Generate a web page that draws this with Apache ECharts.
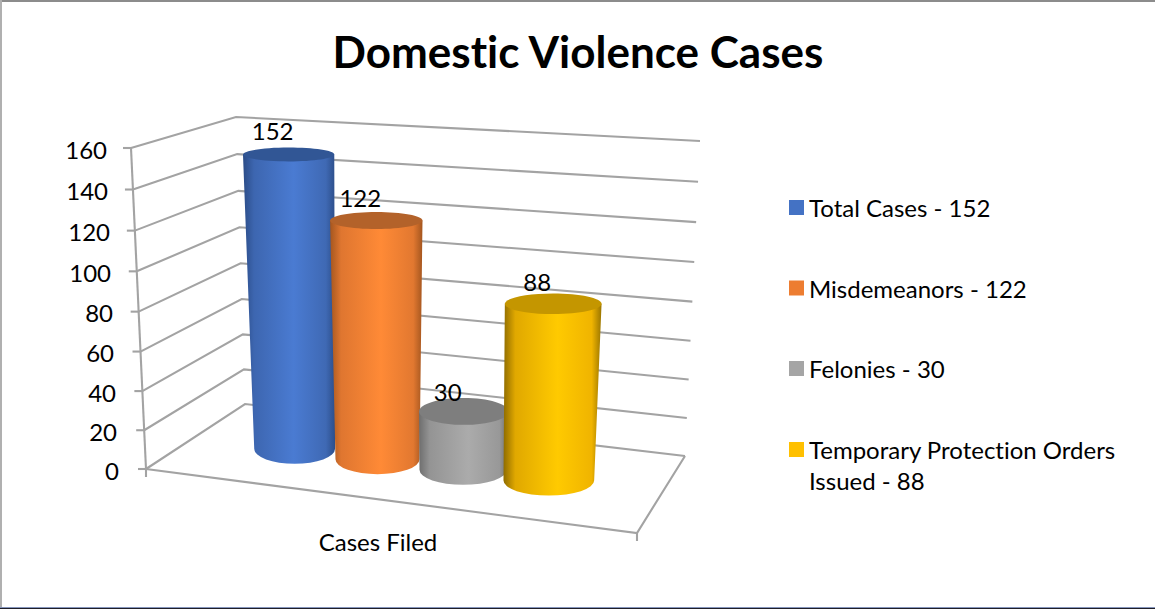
<!DOCTYPE html>
<html>
<head>
<meta charset="utf-8">
<style>html,body{margin:0;padding:0;background:#fff}#c{width:1155px;height:609px}#c text{font-variant-ligatures:none}</style>
<script src="https://cdn.jsdelivr.net/npm/echarts@6/dist/echarts.min.js"></script>
</head>
<body>
<div id="c"></div>
<script>
// ---- data ----
const categories = ['Cases Filed'];
const seriesNames = ['Total Cases - 152', 'Misdemeanors - 122', 'Felonies - 30', 'Temporary Protection Orders Issued - 88'];
const seriesValues = [152, 122, 30, 88];
const tickValues = [0, 20, 40, 60, 80, 100, 120, 140, 160];

// ---- style ----
const FONT = 'Lato';
const legendColors = ['#4472C4', '#ED7D31', '#A5A5A5', '#FFC000'];
const capColors = ['#315695', '#B3622A', '#7E7E7E', '#C49600'];
const sideStops = [
  ['#2B4C87', '#3D66B0', '#4A7BD2', '#3F69B4', '#2C4E8A'],
  ['#A4561F', '#DF7630', '#FF8A36', '#E27830', '#A4561F'],
  ['#6E6E6E', '#949494', '#ABABAB', '#989898', '#6E6E6E'],
  ['#8F6C00', '#E0A800', '#FFCA00', '#F0B400', '#9A7500']
];
const GRID_COLOR = '#A3A3A3';

// ---- 3D box projection (screen corners of the plot box) ----
const F00 = [146, 469], F10 = [637, 533], F01 = [245, 404], F11 = [685, 456]; // floor
const T00 = [131, 148], T10 = [651, 179], T01 = [236, 117], T11 = [700, 141]; // top
const PERSPECTIVE = 0.04;
const PLOT_H = 321;
const slotOffsets = [0.006, 0, 0, 0]; // depth-of-view correction for the nearest slot
const lerp = (a, b, k) => [a[0] + (b[0] - a[0]) * k, a[1] + (b[1] - a[1]) * k];
const foreshorten = t => t / (1 + PERSPECTIVE * (1 - t));
function project(u, v, t) {
  const h = foreshorten(t);
  const l = lerp(lerp(F00, T00, h), lerp(F01, T01, h), v);
  const r = lerp(lerp(F10, T10, h), lerp(F11, T11, h), v);
  return lerp(l, r, u);
}
const axisMax = 160;
const tFrom = (api, val) => {
  const y0 = api.coord([0, 0])[1], y1 = api.coord([0, axisMax])[1];
  return (y0 - api.coord([0, val])[1]) / (y0 - y1);
};
const lineStyle = { stroke: GRID_COLOR, lineWidth: 2.1, fill: null };
const line = (pts) => ({ type: 'polyline', shape: { points: pts }, style: lineStyle, silent: true });

function renderWall(params, api) {
  const t = tFrom(api, api.value(1));
  const a = project(0, 0, t), b = project(0, 1, t), c = project(1, 1, t);
  const children = [line([a, b, c]), line([[a[0] - 8, a[1]], a])];
  if (params.dataIndex === 0) {
    const d = project(1, 0, 0);
    children.push(line([a, d, c]));
    children.push(line([a, project(0, 0, 1)]));
    children.push(line([a, [a[0], a[1] + 8]]));
    children.push(line([d, [d[0], d[1] + 8]]));
  }
  return { type: 'group', children };
}

function cylinder(i) {
  const stops = sideStops[i];
  return function (params, api) {
    const val = api.value(1);
    const t = tFrom(api, val);
    const u = 0.483 + (i - 1.5) * 0.184 + slotOffsets[i];
    const b = project(u, 0.5, 0), p = project(u, 0.5, t);
    const rb = 38.5 + 9 * u, rt = rb + 5.5 * t;
    const ryb = 15, ryt = 15 - 8.5 * t;
    const d = `M${p[0] - rt} ${p[1]} L${b[0] - rb} ${b[1]} A${rb} ${ryb} 0 0 0 ${b[0] + rb} ${b[1]} L${p[0] + rt} ${p[1]} Z`;
    return {
      type: 'group',
      children: [
        { type: 'path', shape: { pathData: d }, style: {
            fill: { type: 'linear', x: 0, y: 0, x2: 1, y2: 0, colorStops: [
              { offset: 0, color: stops[0] }, { offset: 0.12, color: stops[1] },
              { offset: 0.55, color: stops[2] }, { offset: 0.9, color: stops[3] }, { offset: 1, color: stops[4] }
            ] } } },
        { type: 'ellipse', shape: { cx: p[0], cy: p[1], rx: rt, ry: ryt }, style: { fill: capColors[i] } },
        { type: 'text', x: p[0] - 16, y: p[1] - 18.5 - 6 * t, style: {
            text: String(val), fill: '#000', font: `24px ${FONT}`, textAlign: 'center', textVerticalAlign: 'middle' } }
      ]
    };
  };
}

const chart = echarts.init(document.getElementById('c'), null, { renderer: 'svg' });

const labelRich = {};
tickValues.forEach(v => {
  const t = v / axisMax;
  const shift = PLOT_H * (t - foreshorten(t)) + 1;
  labelRich['p' + v] = { padding: [Math.round(shift * 2), Math.round(12 * t), 0, 0], fontSize: 24, fontFamily: FONT, color: '#000' };
});

const legendBase = {
  orient: 'vertical', left: 789, padding: 0, itemWidth: 15, itemHeight: 15, itemGap: 49.5, icon: 'rect', selectedMode: false,
  textStyle: { fontFamily: FONT, fontSize: 24, color: '#000', lineHeight: 31 }
};

chart.setOption({
  animation: false,
  backgroundColor: '#fff',
  title: { text: 'Domestic Violence Cases', left: 327.5, top: 24,
           textStyle: { fontFamily: FONT, fontWeight: 'bold', fontSize: 44, color: '#000' } },
  grid: { left: 146, top: 148, width: 464, height: PLOT_H, containLabel: false },
  xAxis: { type: 'category', data: categories, axisLine: { show: false }, axisTick: { show: false },
           axisLabel: { margin: 60, fontFamily: FONT, fontSize: 24, color: '#000' }, splitLine: { show: false } },
  yAxis: { type: 'value', min: 0, max: axisMax, interval: 20, axisLine: { show: false }, axisTick: { show: false }, splitLine: { show: false },
           axisLabel: { margin: 27, formatter: v => `{p${v}|${v}}`, rich: labelRich } },
  legend: [
    Object.assign({}, legendBase, { top: 192, data: seriesNames.slice(0, 3).map((n, i) => ({ name: n, itemStyle: { color: legendColors[i] } })) }),
    Object.assign({}, legendBase, { top: 403, data: [{ name: seriesNames[3], itemStyle: { color: legendColors[3] } }],
      formatter: n => '\n' + n.replace('Orders Issued', 'Orders\nIssued') })
  ],
  graphic: [
    { type: 'rect', shape: { x: 0, y: 0, width: 1155, height: 2 }, style: { fill: '#8C8C8C' }, silent: true },
    { type: 'rect', shape: { x: 0, y: 0, width: 2, height: 609 }, style: { fill: '#B0B0B0' }, silent: true },
    { type: 'rect', shape: { x: 0, y: 607, width: 1155, height: 1 }, style: { fill: '#8595BC' }, silent: true },
    { type: 'rect', shape: { x: 0, y: 608, width: 1155, height: 1 }, style: { fill: '#1E1E28' }, silent: true }
  ],
  series: [
    { type: 'custom', name: 'walls', silent: true, renderItem: renderWall, encode: { x: 0, y: 1 }, clip: false,
      data: tickValues.map(v => [0, v]) }
  ].concat(seriesNames.map((n, i) => ({
    type: 'custom', name: n, renderItem: cylinder(i), encode: { x: 0, y: 1 }, clip: false,
    itemStyle: { color: legendColors[i] }, data: [[0, seriesValues[i]]]
  })))
});
</script>
</body>
</html>
